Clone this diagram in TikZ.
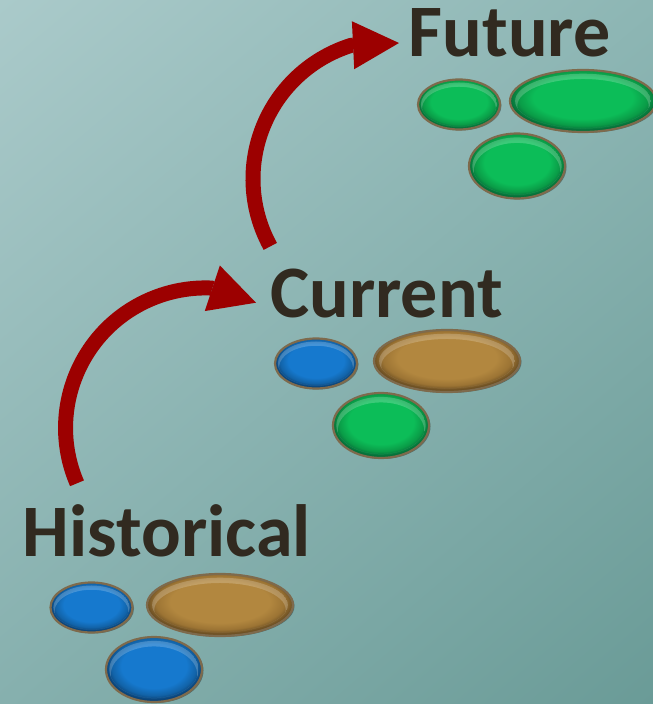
\documentclass[tikz,border=0pt]{standalone}
\usepackage{fontspec}
\setmainfont{Carlito}
\usetikzlibrary{arrows.meta,shapes.geometric,calc,shadings}

% palette
\definecolor{bgTL}{HTML}{AACACA}
\definecolor{bgTR}{HTML}{8DB6B4}
\definecolor{bgBL}{HTML}{86B0AE}
\definecolor{bgBR}{HTML}{6A9B97}
\definecolor{inkdark}{HTML}{312A20}
\definecolor{arrowred}{HTML}{9C0000}
\definecolor{rimbrown}{HTML}{7E6A4C}

\definecolor{gMain}{HTML}{0CBD58}
\definecolor{gMid}{HTML}{0A9C47}
\definecolor{gDark}{HTML}{06703A}
\definecolor{bMain}{HTML}{1679CE}
\definecolor{bMid}{HTML}{1263A8}
\definecolor{bDark}{HTML}{0B4479}
\definecolor{tMain}{HTML}{B2873F}
\definecolor{tMid}{HTML}{9C7434}
\definecolor{tDark}{HTML}{6E5124}

% radial fills for the three kinds of pills (edge of shape = 25bp)
\pgfdeclareradialshading{greenpill}{\pgfpoint{0bp}{4bp}}{color(0bp)=(gMain); color(17bp)=(gMain); color(22bp)=(gMid); color(25bp)=(gDark); color(50bp)=(gDark)}
\pgfdeclareradialshading{bluepill}{\pgfpoint{0bp}{4bp}}{color(0bp)=(bMain); color(17bp)=(bMain); color(22bp)=(bMid); color(25bp)=(bDark); color(50bp)=(bDark)}
\pgfdeclareradialshading{tanpill}{\pgfpoint{0bp}{4bp}}{color(0bp)=(tMain); color(17bp)=(tMain); color(22bp)=(tMid); color(25bp)=(tDark); color(50bp)=(tDark)}

\begin{document}
\begin{tikzpicture}[x=1pt,y=1pt,
  stage/.style={font=\fontsize{74}{80}\selectfont\bfseries, text=inkdark,
    inner sep=0pt, anchor=base west},
  pill/.style={ellipse, inner sep=0pt, draw=rimbrown, line width=2.2pt,
    preaction={fill=black, fill opacity=0.35,
      transform canvas={shift={(1.5pt,-1pt)}}},
    path picture={
      \clip let \p1=(path picture bounding box.north east),
                \p2=(path picture bounding box.center) in
        (\p2) ellipse ({0.93*(\x1-\x2)} and {0.88*(\y1-\y2)});
      \fill[white, fill opacity=0.2, even odd rule]
        let \p1=(path picture bounding box.north east),
            \p2=(path picture bounding box.center) in
        (\p2) ellipse ({0.93*(\x1-\x2)} and {0.88*(\y1-\y2)})
        (\x2,{\y2-0.15*(\y1-\y2)}) ellipse ({0.9*(\x1-\x2)} and {0.86*(\y1-\y2)});
    }},
  green/.style={pill, shade, shading=greenpill},
  blue/.style={pill, shade, shading=bluepill},
  tan/.style={pill, shade, shading=tanpill},
  small/.style={minimum width=82pt, minimum height=50pt},
  wide/.style={minimum width=146pt, minimum height=62pt},
  round/.style={minimum width=96pt, minimum height=65pt},
  flow/.style={draw=arrowred, line width=15pt, line join=round,
    -{Triangle[length=46pt, width=48pt, line width=0pt]}}
]
% backdrop
\useasboundingbox (0,0) rectangle (653,704);
\clip (0,0) rectangle (653,704);
\shade[upper left=bgTL, upper right=bgTR, lower left=bgBL, lower right=bgBR]
  (0,0) rectangle (653,704);

% stage titles
\node[stage] (hist) at (22.5,147) {Historical};
\node[stage] (curr) at (270,386) {Current};
\node[stage] (futr) at (408.5,647) {Future};

% historical group
\node[blue, small] (hs) at (91.5,96.5) {};
\node[tan, wide]   (hb) at (220,99) {};
\node[blue, round] (hc) at (154,34.5) {};

% current group
\node[blue, small]  (cs) at (316,340.5) {};
\node[tan, wide]    (cb) at (447,343) {};
\node[green, round] (cc) at (381,278.5) {};

% future group
\node[green, small] (fs) at (459,599.5) {};
\node[green, wide]  (fb) at (583,603) {};
\node[green, round] (fc) at (517,538) {};

% curved arrows between the stages
\coordinate (tailA) at (77.0,220.7);
\coordinate (tipA)  at (256,401.3);
\draw[flow] (tailA) arc[start angle=203.3, end angle=87.5, radius=140] -- (tipA);

\coordinate (tailB) at (270.3,457.6);
\coordinate (tipB)  at (399,661);
\draw[flow] (tailB) arc[start angle=208.8, end angle=107.3, radius=140] -- (tipB);
\end{tikzpicture}
\end{document}
